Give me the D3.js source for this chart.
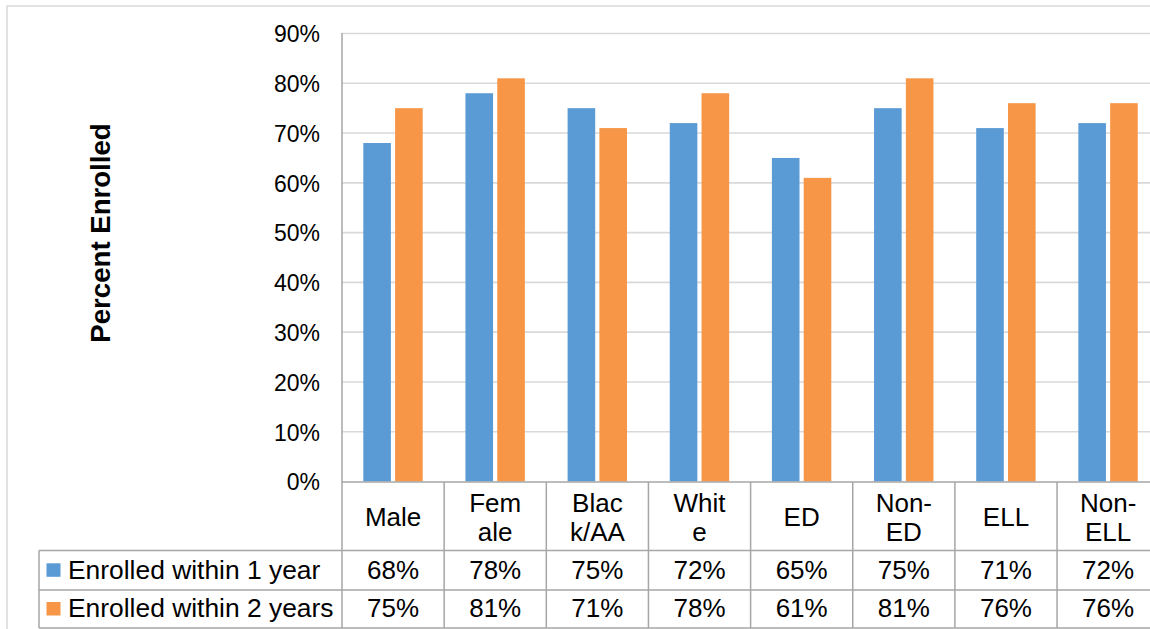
<!DOCTYPE html>
<html>
<head>
<meta charset="utf-8">
<script src="https://cdn.jsdelivr.net/npm/d3@7"></script>
<style>
  html, body { margin: 0; padding: 0; background: #fff; }
  svg { display: block; font-family: "Liberation Sans", Arial, sans-serif; }
</style>
</head>
<body>
<svg id="chart" width="1150" height="629"></svg>
<script>
// Enrollment rates by student group
const categories = ["Male", "Female", "Black/AA", "White", "ED", "Non-ED", "ELL", "Non-ELL"];
const categoryLines = [["Male"], ["Fem", "ale"], ["Blac", "k/AA"], ["Whit", "e"], ["ED"], ["Non-", "ED"], ["ELL"], ["Non-", "ELL"]];
const seriesNames = ["Enrolled within 1 year", "Enrolled within 2 years"];
const within1Year = [0.68, 0.78, 0.75, 0.72, 0.65, 0.75, 0.71, 0.72];
const within2Years = [0.75, 0.81, 0.71, 0.78, 0.61, 0.81, 0.76, 0.76];
const yTicks = [0, 0.1, 0.2, 0.3, 0.4, 0.5, 0.6, 0.7, 0.8, 0.9];
const seriesColors = ["#5b9bd5", "#f79646"];
const axisTitle = "Percent Enrolled";

const seriesValues = [within1Year, within2Years];
const svg = d3.select("#chart");

const plotLeft = 342, bandStep = 102.15;
const x = d3.scaleBand()
  .domain(categories)
  .range([plotLeft, plotLeft + bandStep * categories.length])
  .paddingInner(0).paddingOuter(0);

const xInner = d3.scaleBand()
  .domain(seriesNames)
  .range([21.3, 80.7])
  .paddingInner(0.132).paddingOuter(0);

const y = d3.scaleLinear().domain([0, 0.9]).range([481.5, 33.5]);
const fmt = d3.format(".0%");

const gridColor = "#d9d9d9", lineColor = "#a6a6a6";
const right = x.range()[1];

// outer chart frame
svg.append("rect")
  .attr("x", 7).attr("y", 6)
  .attr("width", 1200).attr("height", 700)
  .attr("fill", "none").attr("stroke", gridColor).attr("stroke-width", 1.5);

// horizontal gridlines
svg.append("g").selectAll("line")
  .data(yTicks.filter(d => d > 0))
  .join("line")
  .attr("x1", plotLeft).attr("x2", right)
  .attr("y1", d => y(d)).attr("y2", d => y(d))
  .attr("stroke", gridColor).attr("stroke-width", 1.6);

// y-axis tick labels
const yAxis = d3.axisLeft(y).tickValues(yTicks).tickFormat(fmt).tickSize(0).tickPadding(0);
const yg = svg.append("g").attr("transform", "translate(320,0)").call(yAxis);
yg.select(".domain").remove();
yg.selectAll("text")
  .attr("font-family", "'Liberation Sans', Arial, sans-serif")
  .attr("font-size", 23).attr("fill", "#000")
  .attr("dy", "0.36em").attr("x", 0);

// y-axis title
svg.append("text")
  .attr("transform", "translate(110,233) rotate(-90)")
  .attr("text-anchor", "middle")
  .attr("font-size", 27.6).attr("font-weight", "bold")
  .attr("fill", "#000")
  .text(axisTitle);

// bars
const groups = svg.append("g").selectAll("g")
  .data(categories)
  .join("g")
  .attr("transform", d => `translate(${x(d)},0)`);

groups.selectAll("rect")
  .data((c, i) => seriesNames.map((s, k) => ({ s, k, v: seriesValues[k][i] })))
  .join("rect")
  .attr("x", d => xInner(d.s))
  .attr("width", xInner.bandwidth())
  .attr("y", d => y(d.v))
  .attr("height", d => y(0) - y(d.v))
  .attr("fill", d => seriesColors[d.k]);

// data table
const tableTop = 482, catRowBottom = 550.5, row1Bottom = 590, row2Bottom = 628, tableLeft = 39;
const tbl = svg.append("g").attr("stroke", lineColor).attr("stroke-width", 1.5);
// vertical axis line and column separators
tbl.append("line").attr("x1", plotLeft).attr("x2", plotLeft).attr("y1", 33).attr("y2", row2Bottom);
tbl.selectAll("line.col")
  .data(categories)
  .join("line").attr("class", "col")
  .attr("x1", d => x(d) + x.bandwidth()).attr("x2", d => x(d) + x.bandwidth())
  .attr("y1", tableTop).attr("y2", row2Bottom);
// horizontal rules
tbl.append("line").attr("x1", plotLeft).attr("x2", right).attr("y1", tableTop).attr("y2", tableTop);
[catRowBottom, row1Bottom, row2Bottom].forEach(yy => {
  tbl.append("line").attr("x1", tableLeft).attr("x2", right).attr("y1", yy).attr("y2", yy);
});
tbl.append("line").attr("x1", tableLeft).attr("x2", tableLeft).attr("y1", catRowBottom).attr("y2", row2Bottom);

// category labels
const catG = svg.append("g").attr("font-size", 26).attr("text-anchor", "middle").attr("fill", "#000");
categories.forEach((c, i) => {
  const lines = categoryLines[i];
  const cx = x(c) + x.bandwidth() / 2;
  const baselines = lines.length === 1 ? [526] : [511.7, 541.2];
  lines.forEach((ln, j) => {
    catG.append("text").attr("x", cx).attr("y", baselines[j]).text(ln);
  });
});

// value rows with legend keys
const rowBaselines = [578.5, 617];
const keyTops = [563.3, 602];
seriesNames.forEach((s, k) => {
  svg.append("rect")
    .attr("x", 46.5).attr("y", keyTops[k])
    .attr("width", 14).attr("height", 13.5)
    .attr("fill", seriesColors[k]);
  svg.append("text")
    .attr("x", 68).attr("y", rowBaselines[k])
    .attr("font-size", 26.4).attr("fill", "#000")
    .text(s);
  svg.append("g").attr("font-size", 26).attr("text-anchor", "middle")
    .selectAll("text")
    .data(seriesValues[k])
    .join("text")
    .attr("x", (d, i) => x(categories[i]) + x.bandwidth() / 2)
    .attr("y", rowBaselines[k])
    .text(d => fmt(d));
});
</script>
</body>
</html>
